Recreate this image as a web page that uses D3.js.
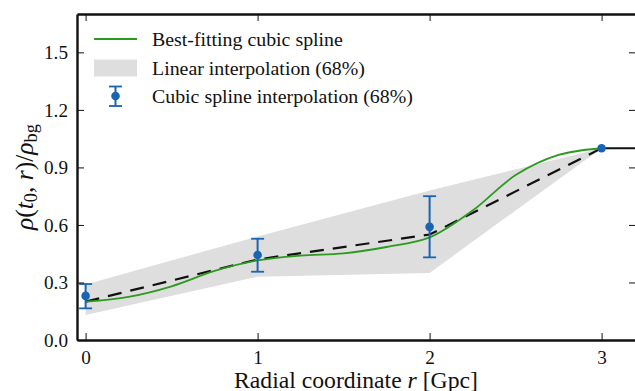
<!DOCTYPE html>
<html>
<head>
<meta charset="utf-8">
<script src="https://cdn.jsdelivr.net/npm/d3@7"></script>
<style>
  body { margin: 0; background: #fff; }
</style>
</head>
<body>
<div id="chart"></div>
<script>
// knots of the profile (r in Gpc)
const knots = [0, 1, 2, 3];
const linearMid = [0.2, 0.42, 0.55, 1.0];
const bandUpper = [0.29, 0.54, 0.78, 1.0];
const bandLower = [0.13, 0.33, 0.35, 1.0];

// cubic spline interpolation points with 68% errors
const splineR = [0, 1, 2, 3];
const splineVal = [0.23, 0.443, 0.59, 1.0];
const splineLo = [0.165, 0.356, 0.431, 1.0];
const splineHi = [0.292, 0.528, 0.75, 1.0];

// best-fitting cubic spline
const fitR = [0, 0.25, 0.5, 0.75, 1, 1.25, 1.5, 1.75, 2, 2.25, 2.5, 2.75, 3];
const fitVal = [0.2, 0.225, 0.28, 0.36, 0.415, 0.44, 0.452, 0.485, 0.535, 0.675, 0.86, 0.965, 1.0];

// background beyond the void
const outerR = [3, 3.2];
const outerVal = [1.0, 1.0];

const xTicks = [0, 1, 2, 3];
const yTicks = [0.0, 0.3, 0.6, 0.9, 1.2, 1.5];
const legendLabels = ['Best-fitting cubic spline', 'Linear interpolation (68%)', 'Cubic spline interpolation (68%)'];

const FONT = '"Liberation Serif", Tinos, "Times New Roman", "Nimbus Roman", "DejaVu Serif", "Noto Serif", serif';

const W = 635, H = 391;
const margin = { top: 14, right: -1, bottom: 51, left: 77 };

const x = d3.scaleLinear().domain([-0.05, 3.2]).range([margin.left, W - margin.right]);
const y = d3.scaleLinear().domain([0, 1.7]).range([H - margin.bottom, margin.top]);

const svg = d3.select('#chart').append('svg')
  .attr('width', W)
  .attr('height', H)
  .attr('font-family', FONT);

// scale a text so that it spans about the width seen in the reference
function fitSize(sel, target, base) {
  const len = sel.node().getComputedTextLength();
  if (!len) return base;
  return Math.max(base * 0.75, Math.min(base * 1.35, base * target / len));
}

svg.append('clipPath').attr('id', 'plotclip')
  .append('rect')
  .attr('x', x(-0.05)).attr('y', y(1.7))
  .attr('width', x(3.2) - x(-0.05)).attr('height', y(0) - y(1.7));

const plot = svg.append('g').attr('clip-path', 'url(#plotclip)');

// grey band
const area = d3.area()
  .x((d, i) => x(knots[i]))
  .y0((d, i) => y(bandLower[i]))
  .y1((d, i) => y(bandUpper[i]));
plot.append('path')
  .datum(knots)
  .attr('d', area)
  .attr('fill', '#dedede');

// dashed linear interpolation
const line = d3.line();
plot.append('path')
  .datum(knots.map((r, i) => [x(r), y(linearMid[i])]))
  .attr('d', line)
  .attr('fill', 'none')
  .attr('stroke', '#111')
  .attr('stroke-width', 2.2)
  .attr('stroke-dasharray', '14,9');

plot.append('path')
  .datum(outerR.map((r, i) => [x(r), y(outerVal[i])]))
  .attr('d', line)
  .attr('fill', 'none')
  .attr('stroke', '#111')
  .attr('stroke-width', 2.2);

// best fit spline
plot.append('path')
  .datum(fitR.map((r, i) => [x(r), y(fitVal[i])]))
  .attr('d', d3.line().curve(d3.curveCatmullRom.alpha(0.5)))
  .attr('fill', 'none')
  .attr('stroke', '#2b9a1e')
  .attr('stroke-width', 1.8);

// error bars
const blue = '#1a64b4';
const eb = plot.append('g');
splineR.forEach((r, i) => {
  if (splineHi[i] !== splineLo[i]) {
    eb.append('line')
      .attr('x1', x(r)).attr('x2', x(r))
      .attr('y1', y(splineLo[i])).attr('y2', y(splineHi[i]))
      .attr('stroke', blue).attr('stroke-width', 2);
    [splineLo[i], splineHi[i]].forEach(v => {
      eb.append('line')
        .attr('x1', x(r) - 6.5).attr('x2', x(r) + 6.5)
        .attr('y1', y(v)).attr('y2', y(v))
        .attr('stroke', blue).attr('stroke-width', 1.8);
    });
  }
  eb.append('circle')
    .attr('cx', x(r)).attr('cy', y(splineVal[i]))
    .attr('r', 4.3)
    .attr('fill', blue);
});

// axes, ticks inward on all four sides
const tickLen = 7;
const axB = svg.append('g').attr('transform', `translate(0,${y(0)})`)
  .call(d3.axisBottom(x).tickValues(xTicks).tickSizeInner(-tickLen).tickSizeOuter(0).tickPadding(10).tickFormat(d3.format('d')));
const axT = svg.append('g').attr('transform', `translate(0,${y(1.7)})`)
  .call(d3.axisTop(x).tickValues(xTicks).tickSizeInner(-tickLen).tickSizeOuter(0).tickFormat(''));
const axL = svg.append('g').attr('transform', `translate(${x(-0.05)},0)`)
  .call(d3.axisLeft(y).tickValues(yTicks).tickSizeInner(-tickLen).tickSizeOuter(0).tickPadding(9).tickFormat(d3.format('.1f')));
const axR = svg.append('g').attr('transform', `translate(${x(3.2)},0)`)
  .call(d3.axisRight(y).tickValues(yTicks).tickSizeInner(-tickLen).tickSizeOuter(0).tickFormat(''));

[axB, axT, axL, axR].forEach(g => {
  g.attr('font-family', FONT).attr('font-size', 20);
  g.select('.domain').attr('stroke', '#111').attr('stroke-width', 2.4);
  g.selectAll('.tick line').attr('stroke', '#111').attr('stroke-width', 1);
  g.selectAll('.tick text').attr('fill', '#111').attr('font-family', FONT);
});
const tickSize = fitSize(axL.selectAll('.tick text').filter(d => d === 1.5), 24, 20);
[axB, axL].forEach(g => g.attr('font-size', tickSize));

// axis labels
const xl = svg.append('text')
  .attr('x', 356).attr('y', 388)
  .attr('text-anchor', 'middle')
  .attr('font-size', 21)
  .attr('fill', '#111');
xl.append('tspan').text('Radial coordinate ');
xl.append('tspan').attr('font-style', 'italic').text('r');
xl.append('tspan').text(' [Gpc]');
xl.attr('font-size', fitSize(xl, 244, 21));

const yl = svg.append('text')
  .attr('transform', 'translate(33,177) rotate(-90)')
  .attr('text-anchor', 'middle')
  .attr('font-size', 22)
  .attr('fill', '#111');
yl.append('tspan').attr('font-style', 'italic').text('ρ');
yl.append('tspan').text('(');
yl.append('tspan').attr('font-style', 'italic').text('t');
yl.append('tspan').attr('font-size', '0.72em').attr('dy', '0.22em').text('0');
yl.append('tspan').attr('dy', '-0.16em').text(', ');
yl.append('tspan').attr('font-style', 'italic').text('r');
yl.append('tspan').text(')/');
yl.append('tspan').attr('font-style', 'italic').text('ρ');
yl.append('tspan').attr('font-size', '0.72em').attr('dy', '0.22em').text('bg');
yl.attr('font-size', fitSize(yl, 106, 22));

// legend
const lg = svg.append('g');
const rowY = [39, 68, 96];
lg.append('line')
  .attr('x1', 94).attr('x2', 137).attr('y1', rowY[0]).attr('y2', rowY[0])
  .attr('stroke', '#2b9a1e').attr('stroke-width', 2);
lg.append('rect')
  .attr('x', 94).attr('y', rowY[1] - 8.5).attr('width', 43).attr('height', 17)
  .attr('fill', '#dedede');
lg.append('line')
  .attr('x1', 115.5).attr('x2', 115.5).attr('y1', rowY[2] - 9.5).attr('y2', rowY[2] + 10)
  .attr('stroke', blue).attr('stroke-width', 2);
[rowY[2] - 9.5, rowY[2] + 10].forEach(v => {
  lg.append('line')
    .attr('x1', 109).attr('x2', 122).attr('y1', v).attr('y2', v)
    .attr('stroke', blue).attr('stroke-width', 1.8);
});
lg.append('circle').attr('cx', 115.5).attr('cy', rowY[2]).attr('r', 4.3).attr('fill', blue);
const legendText = lg.selectAll('text.lab')
  .data(legendLabels)
  .join('text')
  .attr('class', 'lab')
  .attr('x', 152).attr('y', (d, i) => rowY[i] + 7)
  .attr('font-size', 21)
  .attr('fill', '#111')
  .text(d => d);
legendText.attr('font-size', fitSize(legendText.filter((d, i) => i === 0), 191, 21));

svg.selectAll('text').attr('font-family', FONT);
</script>
</body>
</html>
